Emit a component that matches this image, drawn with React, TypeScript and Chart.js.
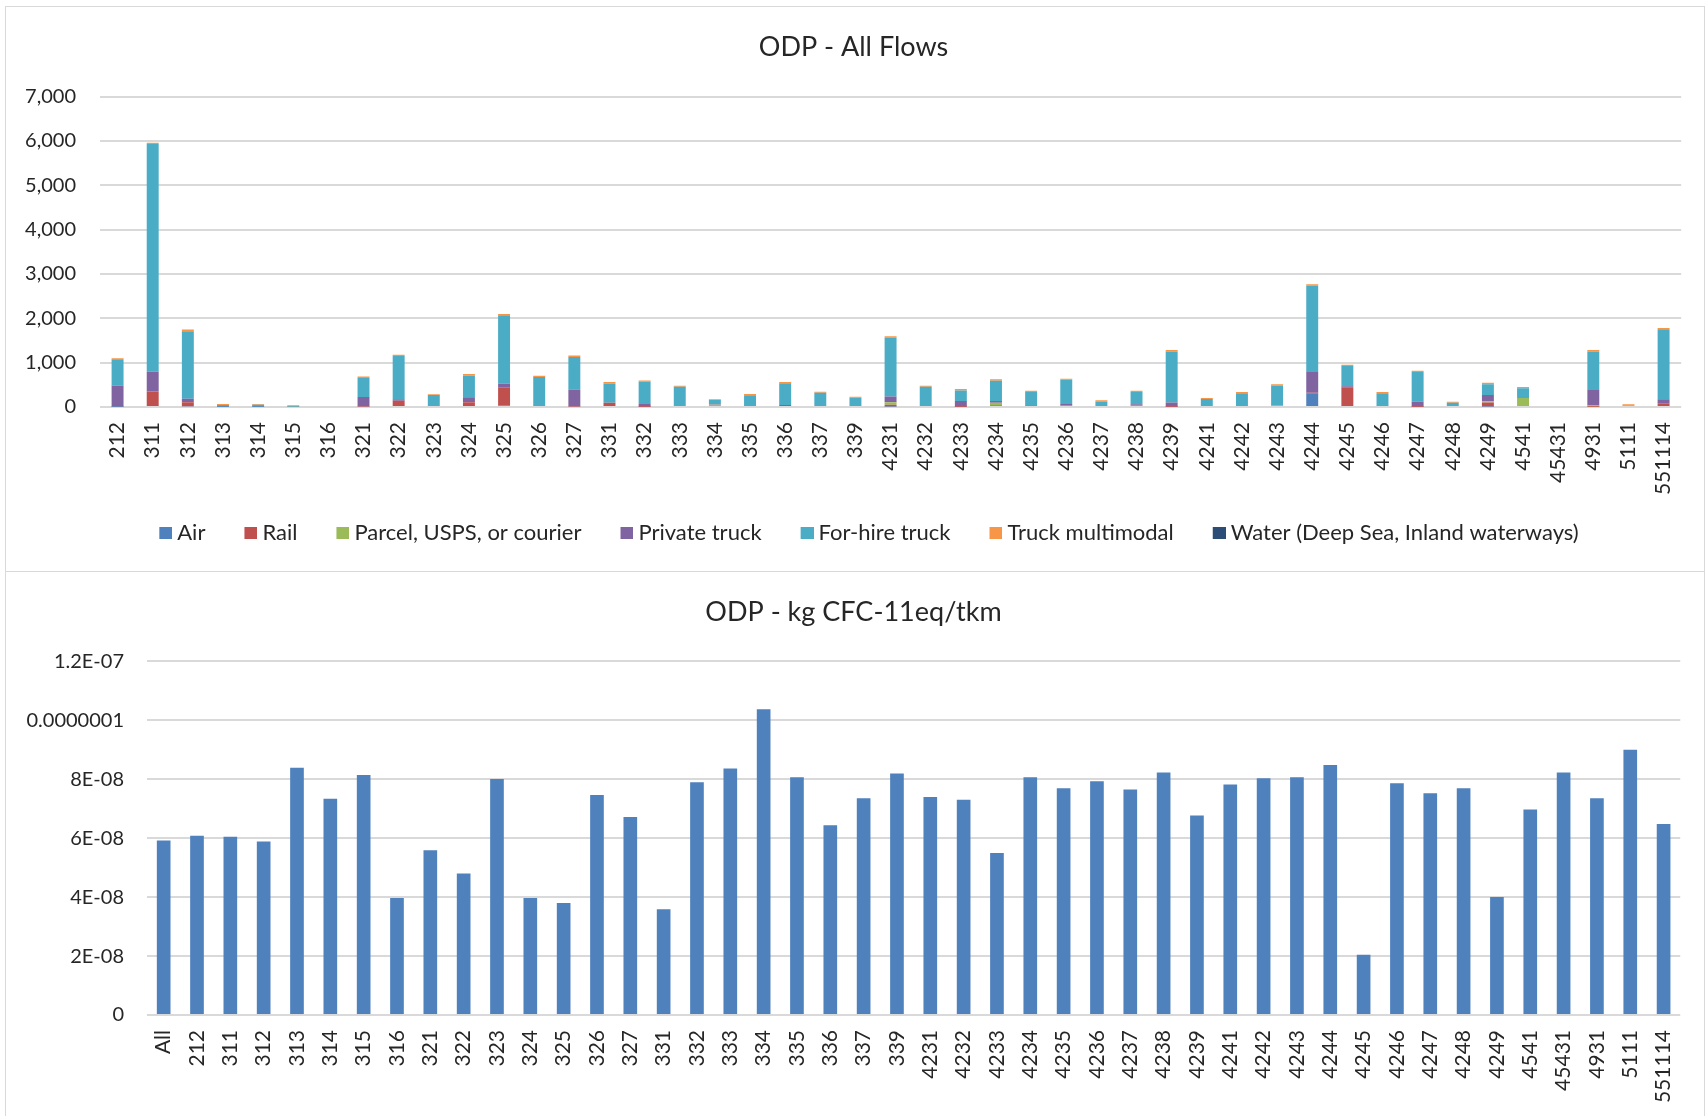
import React, { useEffect, useRef } from "react";
import { Chart, registerables } from "chart.js";

Chart.register(...registerables);

// ---------- Top chart: ODP - All Flows ----------
const flowCategories = [
  "212", "311", "312", "313", "314", "315", "316", "321", "322", "323", "324", "325", "326", "327",
  "331", "332", "333", "334", "335", "336", "337", "339",
  "4231", "4232", "4233", "4234", "4235", "4236", "4237", "4238", "4239",
  "4241", "4242", "4243", "4244", "4245", "4246", "4247", "4248", "4249",
  "4541", "45431", "4931", "5111", "551114",
];

const airValues = [5, 0, 15, 5, 3, 0, 0, 0, 0, 0, 0, 38, 0, 0, 0, 0, 0, 25, 0, 0, 0, 0, 10, 0, 0, 38, 0, 0, 0, 0, 0, 0, 0, 0, 300, 0, 0, 0, 0, 10, 0, 0, 0, 0, 0];
const railValues = [40, 350, 90, 0, 0, 0, 0, 10, 143, 0, 105, 398, 0, 10, 98, 5, 0, 5, 0, 0, 0, 0, 38, 0, 5, 5, 0, 0, 0, 0, 5, 0, 0, 0, 22, 444, 0, 5, 0, 90, 0, 0, 5, 0, 75];
const parcelValues = [0, 0, 0, 0, 0, 0, 0, 0, 0, 0, 0, 0, 0, 0, 0, 0, 0, 20, 0, 0, 0, 0, 60, 0, 0, 53, 0, 30, 0, 30, 0, 0, 0, 30, 0, 0, 0, 0, 0, 30, 203, 0, 30, 0, 0];
const privateTruckValues = [440, 444, 83, 0, 0, 0, 0, 218, 30, 0, 113, 90, 0, 383, 0, 60, 0, 10, 0, 45, 0, 0, 128, 0, 128, 38, 38, 38, 0, 30, 98, 0, 0, 0, 466, 22, 0, 120, 0, 143, 0, 0, 346, 0, 98];
const forHireTruckValues = [590, 5135, 1519, 40, 45, 5, 0, 428, 977, 270, 489, 1541, 675, 737, 429, 504, 455, 95, 263, 489, 320, 210, 1331, 455, 240, 459, 300, 549, 125, 278, 1150, 180, 310, 451, 1947, 459, 310, 662, 95, 241, 218, 0, 872, 35, 1579];
const truckMultimodalValues = [25, 30, 38, 20, 18, 35, 0, 30, 30, 20, 37, 30, 30, 30, 37, 30, 25, 20, 30, 30, 25, 20, 30, 25, 30, 30, 30, 22, 25, 30, 30, 23, 28, 30, 30, 30, 28, 30, 25, 30, 30, 0, 30, 25, 30];
const waterValues = [0, 0, 0, 0, 0, 0, 0, 0, 0, 0, 0, 0, 0, 0, 0, 0, 0, 0, 0, 0, 0, 0, 0, 0, 0, 0, 0, 0, 0, 0, 0, 0, 0, 0, 0, 0, 0, 0, 0, 0, 0, 0, 0, 0, 0];

const flowSeriesNames = [
  "Air", "Rail", "Parcel, USPS, or courier", "Private truck", "For-hire truck", "Truck multimodal",
  "Water (Deep Sea, Inland waterways)",
];
const flowSeriesColors = ["#4F81BD", "#C0504D", "#9BBB59", "#8064A2", "#4BACC6", "#F79646", "#2C4D75"];
const flowSeriesValues = [airValues, railValues, parcelValues, privateTruckValues, forHireTruckValues, truckMultimodalValues, waterValues];

const flowYMax = 7000;
const flowYStep = 1000;

// ---------- Bottom chart: ODP - kg CFC-11eq/tkm ----------
const intensityCategories = [
  "All", "212", "311", "312", "313", "314", "315", "316", "321", "322", "323", "324", "325", "326", "327",
  "331", "332", "333", "334", "335", "336", "337", "339",
  "4231", "4232", "4233", "4234", "4235", "4236", "4237", "4238", "4239",
  "4241", "4242", "4243", "4244", "4245", "4246", "4247", "4248", "4249",
  "4541", "45431", "4931", "5111", "551114",
];
const intensityValues = [
  5.92e-8, 6.08e-8, 6.05e-8, 5.89e-8, 8.39e-8, 7.34e-8, 8.14e-8, 3.97e-8, 5.59e-8, 4.8e-8, 8.01e-8, 3.97e-8, 3.8e-8, 7.46e-8, 6.72e-8,
  3.59e-8, 7.9e-8, 8.36e-8, 1.037e-7, 8.07e-8, 6.44e-8, 7.35e-8, 8.19e-8,
  7.4e-8, 7.3e-8, 5.5e-8, 8.07e-8, 7.69e-8, 7.93e-8, 7.65e-8, 8.23e-8, 6.77e-8,
  7.82e-8, 8.03e-8, 8.07e-8, 8.48e-8, 2.04e-8, 7.86e-8, 7.52e-8, 7.69e-8, 4.0e-8,
  6.97e-8, 8.23e-8, 7.35e-8, 9.0e-8, 6.48e-8,
];
const intensityTickValues = [0, 2e-8, 4e-8, 6e-8, 8e-8, 1e-7, 1.2e-7];
const intensityTickLabels = ["0", "2E-08", "4E-08", "6E-08", "8E-08", "0.0000001", "1.2E-07"];

const FONT = "Lato";
const TEXT = "#262626";
const GRID = "#D9D9D9";

// Legend marker: a small square placed at the right end of a wider transparent slot,
// so the legend items get Excel-like spacing.
function makeMarker(color: string): HTMLCanvasElement {
  const c = document.createElement("canvas");
  c.width = 50;
  c.height = 12;
  const ctx = c.getContext("2d");
  if (ctx) {
    ctx.fillStyle = color;
    ctx.fillRect(37, 0, 13, 12);
  }
  return c;
}

function TopChart() {
  const ref = useRef<HTMLCanvasElement | null>(null);
  useEffect(() => {
    if (!ref.current) return;
    const markers = flowSeriesColors.map(makeMarker);
    const chart = new Chart(ref.current, {
      type: "bar",
      data: {
        labels: flowCategories,
        datasets: flowSeriesNames.map((name, i) => ({
          label: name,
          data: flowSeriesValues[i],
          backgroundColor: flowSeriesColors[i],
          borderWidth: 0,
          barPercentage: 0.34,
          categoryPercentage: 1,
        })),
      },
      options: {
        responsive: false,
        animation: false,
        devicePixelRatio: 1,
        layout: { padding: { top: 8, bottom: 16, left: 16, right: 19 } },
        plugins: {
          title: {
            display: true,
            text: "ODP - All Flows",
            color: TEXT,
            font: { family: FONT, size: 27, weight: "normal" },
            padding: { top: 16, bottom: 33.1 },
          },
          legend: {
            position: "bottom",
            labels: {
              color: TEXT,
              font: { family: FONT, size: 22 },
              usePointStyle: true,
              pointStyleWidth: 38,
              boxWidth: 12,
              boxHeight: 12,
              padding: 8,
              generateLabels: (c: any) =>
                Chart.defaults.plugins.legend.labels.generateLabels(c).map((item: any, i: number) => ({
                  ...item,
                  pointStyle: markers[i],
                })),
            },
          },
          tooltip: { enabled: false },
        },
        scales: {
          x: {
            stacked: true,
            grid: { display: false, drawTicks: false },
            border: { display: false },
            ticks: {
              color: TEXT,
              font: { family: FONT, size: 21 },
              minRotation: 90,
              maxRotation: 90,
              autoSkip: false,
              padding: 15,
            },
            afterFit: (s: any) => {
              s.height = 107;
            },
          },
          y: {
            stacked: true,
            min: 0,
            max: flowYMax,
            grid: { color: GRID, lineWidth: 2, drawTicks: false },
            border: { display: false },
            ticks: {
              stepSize: flowYStep,
              color: TEXT,
              font: { family: FONT, size: 20 },
              padding: 24,
              callback: (v: any) => Number(v).toLocaleString("en-US"),
            },
            afterFit: (s: any) => {
              s.width = 78;
            },
          },
        },
      },
    });
    return () => chart.destroy();
  }, []);
  return <canvas ref={ref} width={1698} height={563} style={{ display: "block" }} />;
}

function BottomChart() {
  const ref = useRef<HTMLCanvasElement | null>(null);
  useEffect(() => {
    if (!ref.current) return;
    const chart = new Chart(ref.current, {
      type: "bar",
      data: {
        labels: intensityCategories,
        datasets: [
          {
            label: "ODP - kg CFC-11eq/tkm",
            data: intensityValues,
            backgroundColor: "#4F81BD",
            borderWidth: 0,
            barPercentage: 0.41,
            categoryPercentage: 1,
          },
        ],
      },
      options: {
        responsive: false,
        animation: false,
        devicePixelRatio: 1,
        layout: { padding: { top: 8, bottom: 0, left: 16, right: 19 } },
        plugins: {
          title: {
            display: true,
            text: "ODP - kg CFC-11eq/tkm",
            color: TEXT,
            font: { family: FONT, size: 27, weight: "normal" },
            padding: { top: 16.5, bottom: 32.4 },
          },
          legend: { display: false },
          tooltip: { enabled: false },
        },
        scales: {
          x: {
            grid: { display: false, drawTicks: false },
            border: { display: false },
            ticks: {
              color: TEXT,
              font: { family: FONT, size: 21 },
              minRotation: 90,
              maxRotation: 90,
              autoSkip: false,
              padding: 15,
            },
            afterFit: (s: any) => {
              s.height = 101;
            },
          },
          y: {
            min: 0,
            max: intensityTickValues[intensityTickValues.length - 1],
            grid: { color: GRID, lineWidth: 2, drawTicks: false },
            border: { display: false },
            afterBuildTicks: (axis: any) => {
              axis.ticks = intensityTickValues.map((v) => ({ value: v }));
            },
            ticks: {
              color: TEXT,
              font: { family: FONT, size: 20 },
              padding: 23,
              callback: (_v: any, i: number) => intensityTickLabels[i],
            },
            afterFit: (s: any) => {
              s.width = 125;
            },
          },
        },
      },
    });
    return () => chart.destroy();
  }, []);
  return <canvas ref={ref} width={1698} height={544} style={{ display: "block" }} />;
}

export default function App() {
  return (
    <div style={{ position: "absolute", left: 0, top: 0, width: 1707, height: 1116, overflow: "hidden", background: "#fff" }}>
      <div
        style={{
          position: "absolute",
          left: 5,
          top: 6,
          width: 1698,
          height: 564,
          border: "1px solid #D9D9D9",
        }}
      >
        <TopChart />
      </div>
      <div
        style={{
          position: "absolute",
          left: 5,
          top: 571,
          width: 1698,
          height: 560,
          border: "1px solid #D9D9D9",
        }}
      >
        <BottomChart />
      </div>
    </div>
  );
}
